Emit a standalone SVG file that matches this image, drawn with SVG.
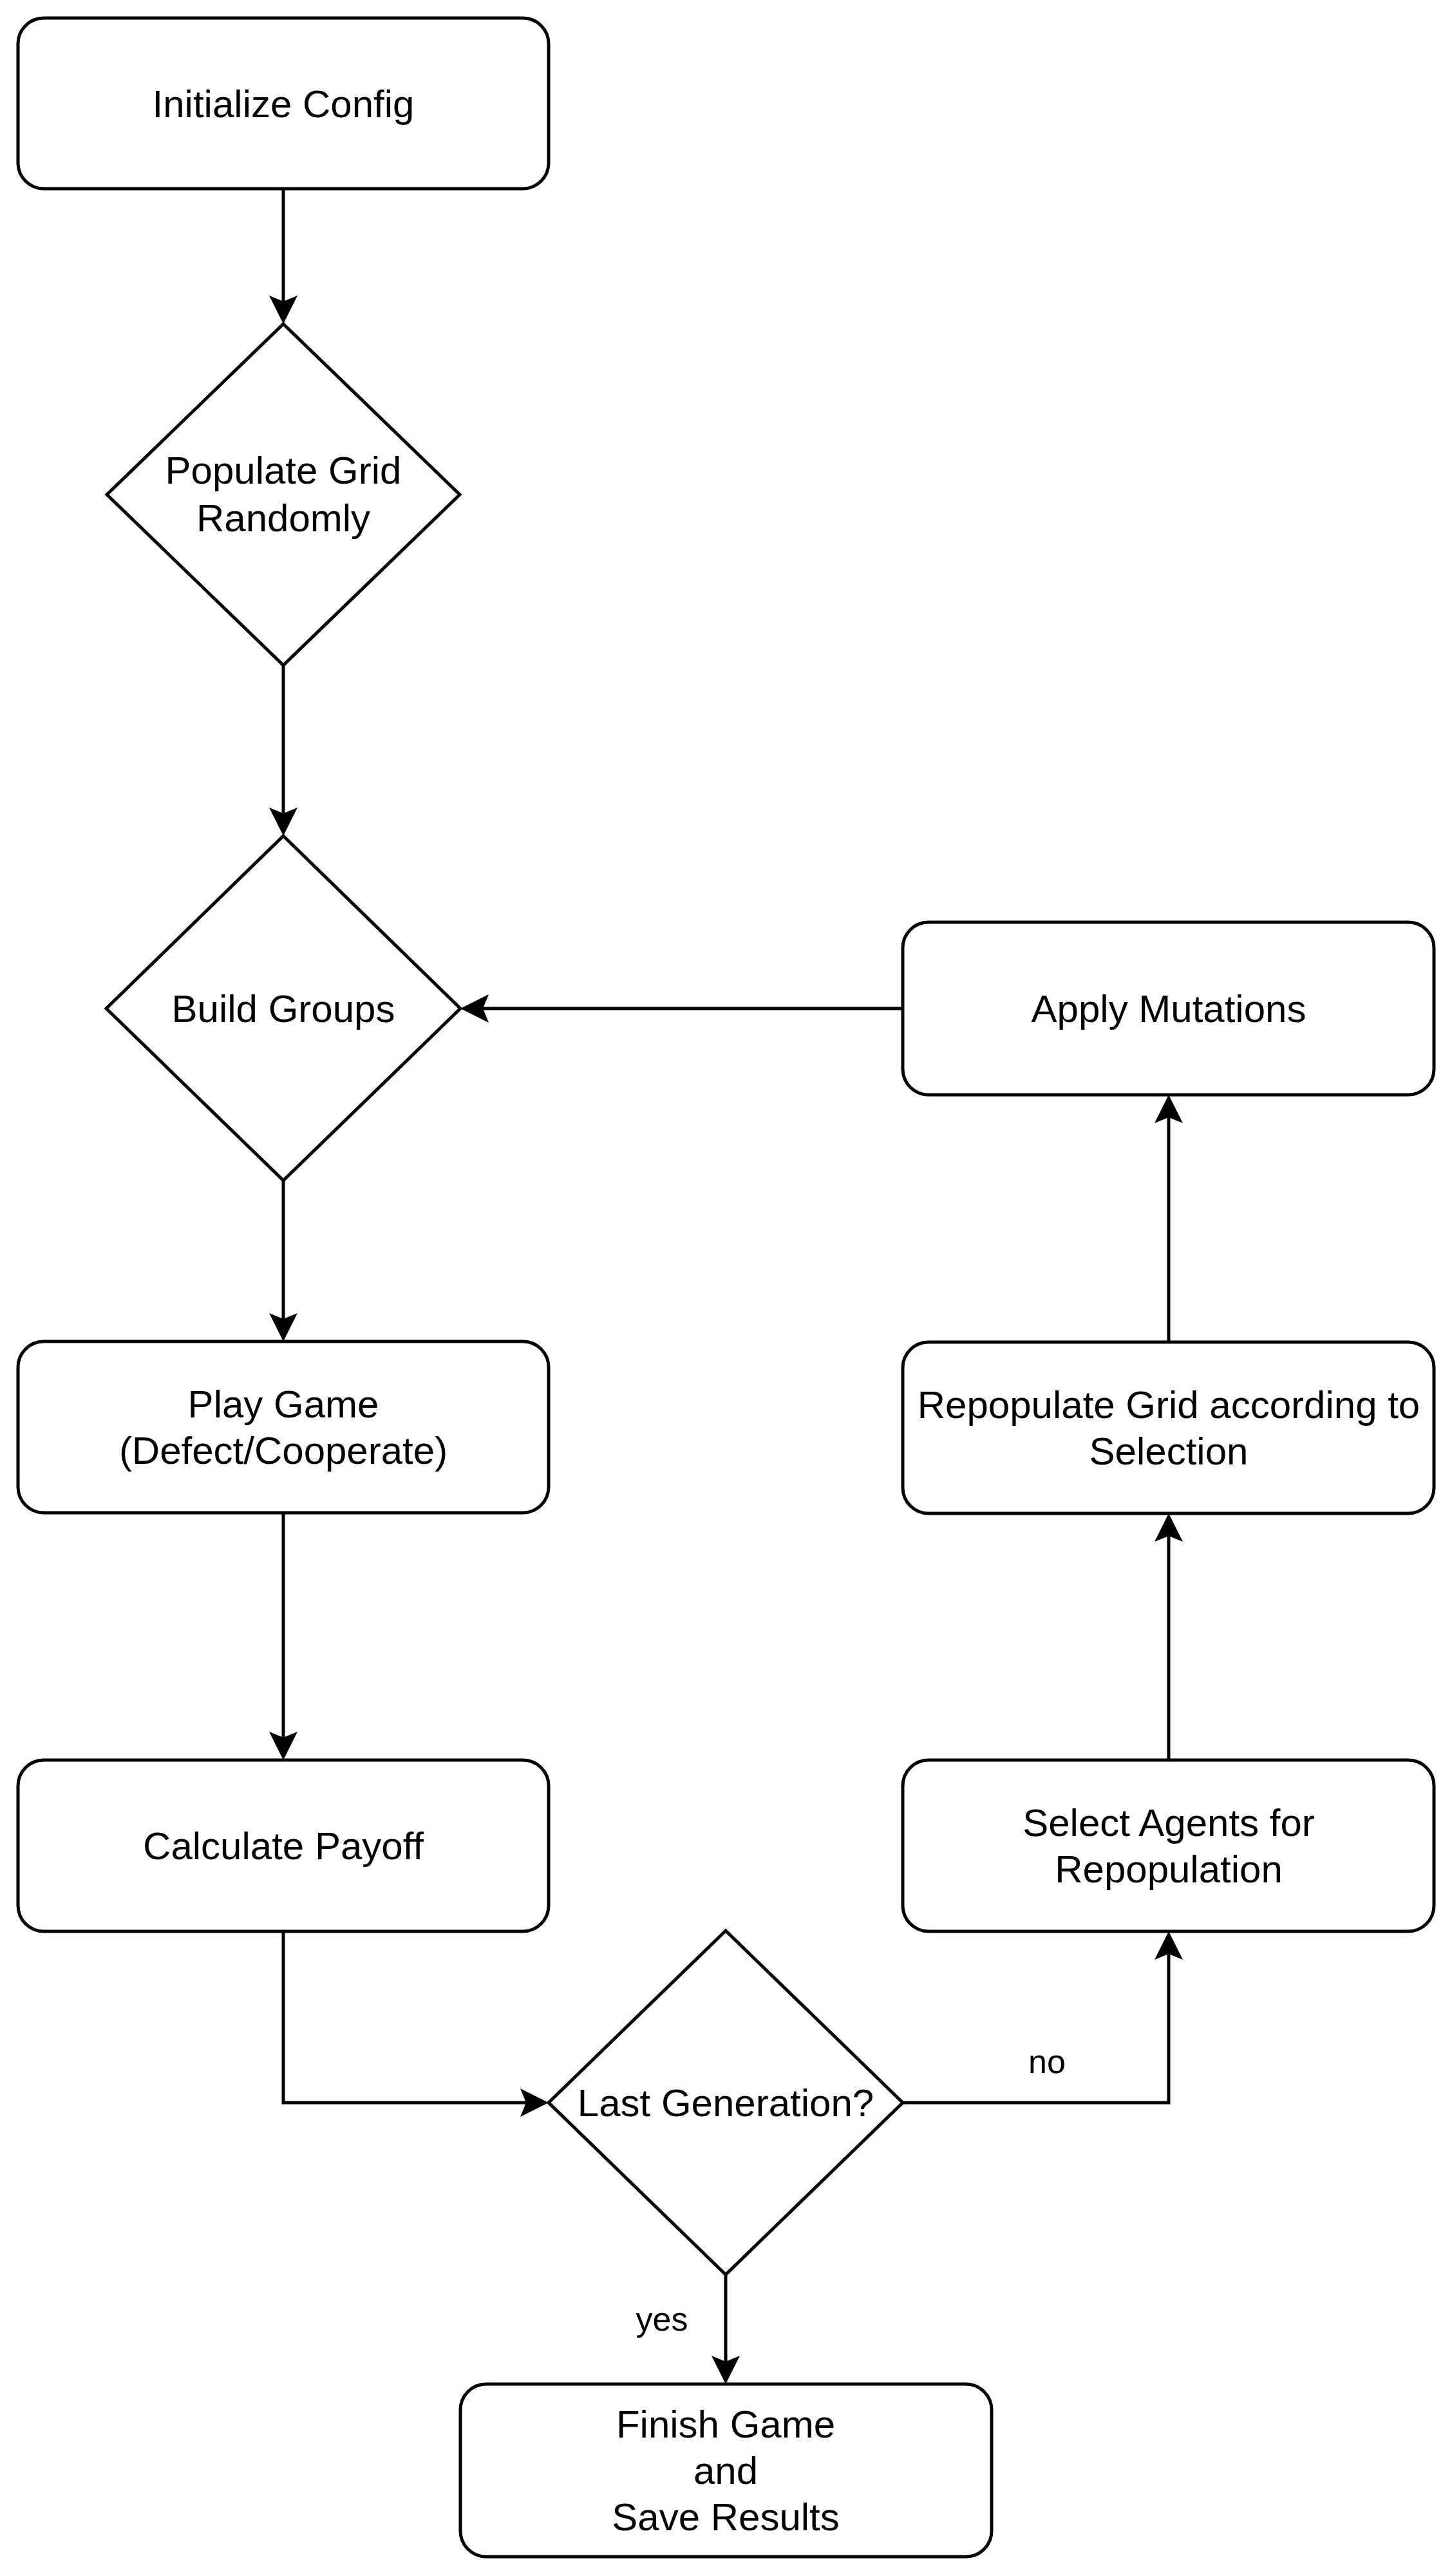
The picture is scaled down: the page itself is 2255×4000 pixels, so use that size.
<svg xmlns="http://www.w3.org/2000/svg" width="2255" height="4000" viewBox="0 0 2255 4000">
<style>
.node{fill:#ffffff;stroke:#000000;stroke-width:5}
.edge{fill:none;stroke:#000000;stroke-width:5;marker-end:url(#arrow)}
.t{font-family:"Liberation Sans",Arial,sans-serif;font-size:60px;fill:#000000;text-anchor:middle}
.lbl{font-family:"Liberation Sans",Arial,sans-serif;font-size:52px;fill:#000000;text-anchor:middle}
</style>
<defs>
<marker id="arrow" markerUnits="userSpaceOnUse" viewBox="-16 -24 48 48" markerWidth="48" markerHeight="48" refX="0" refY="0" orient="auto">
<path d="M30,0 L-14,-22 L-5,0 L-14,22 Z" fill="#000000"/>
</marker>
</defs>
<rect width="2255" height="4000" fill="#ffffff"/>
<g id="connectors">
<path class="edge" d="M440,293 V473"/>
<path class="edge" d="M440,1033 V1268"/>
<path class="edge" d="M440,1833 V2053"/>
<path class="edge" d="M440,2349 V2703"/>
<path class="edge" d="M440,2999 V3265 H822"/>
<path class="edge" d="M1402,3265 H1815 V3029"/>
<text class="lbl" x="1626" y="3219">no</text>
<path class="edge" d="M1127,3532 V3672"/>
<text class="lbl" x="1028" y="3619">yes</text>
<path class="edge" d="M1815,2733 V2380"/>
<path class="edge" d="M1815,2084 V1730"/>
<path class="edge" d="M1402,1566 H745"/>
</g>
<g id="init">
<rect class="node" x="28" y="28" width="824" height="265" rx="40" ry="40"/>
<text class="t" x="440" y="182">Initialize Config</text>
</g>
<g id="populate">
<polygon class="node" points="440,503 714,768 440,1033 166,768"/>
<text class="t" x="440" y="751">Populate Grid</text>
<text class="t" x="440" y="825">Randomly</text>
</g>
<g id="build">
<polygon class="node" points="440,1298 715,1566 440,1833 165,1566"/>
<text class="t" x="440" y="1587">Build Groups</text>
</g>
<g id="mutations">
<rect class="node" x="1402" y="1432" width="825" height="268" rx="40" ry="40"/>
<text class="t" x="1815" y="1587">Apply Mutations</text>
</g>
<g id="play">
<rect class="node" x="28" y="2083" width="824" height="266" rx="40" ry="40"/>
<text class="t" x="440" y="2201">Play Game</text>
<text class="t" x="440" y="2273">(Defect/Cooperate)</text>
</g>
<g id="repopulate">
<rect class="node" x="1402" y="2084" width="825" height="266" rx="40" ry="40"/>
<text class="t" x="1815" y="2202">Repopulate Grid according to</text>
<text class="t" x="1815" y="2274">Selection</text>
</g>
<g id="payoff">
<rect class="node" x="28" y="2733" width="824" height="266" rx="40" ry="40"/>
<text class="t" x="440" y="2887">Calculate Payoff</text>
</g>
<g id="select">
<rect class="node" x="1402" y="2733" width="825" height="266" rx="40" ry="40"/>
<text class="t" x="1815" y="2851">Select Agents for</text>
<text class="t" x="1815" y="2923">Repopulation</text>
</g>
<g id="lastgen">
<polygon class="node" points="1127,2998 1402,3265 1127,3532 852,3265"/>
<text class="t" x="1127" y="3286">Last Generation?</text>
</g>
<g id="finish">
<rect class="node" x="715" y="3702" width="825" height="268" rx="40" ry="40"/>
<text class="t" x="1127" y="3785">Finish Game</text>
<text class="t" x="1127" y="3857">and</text>
<text class="t" x="1127" y="3929">Save Results</text>
</g>
</svg>
